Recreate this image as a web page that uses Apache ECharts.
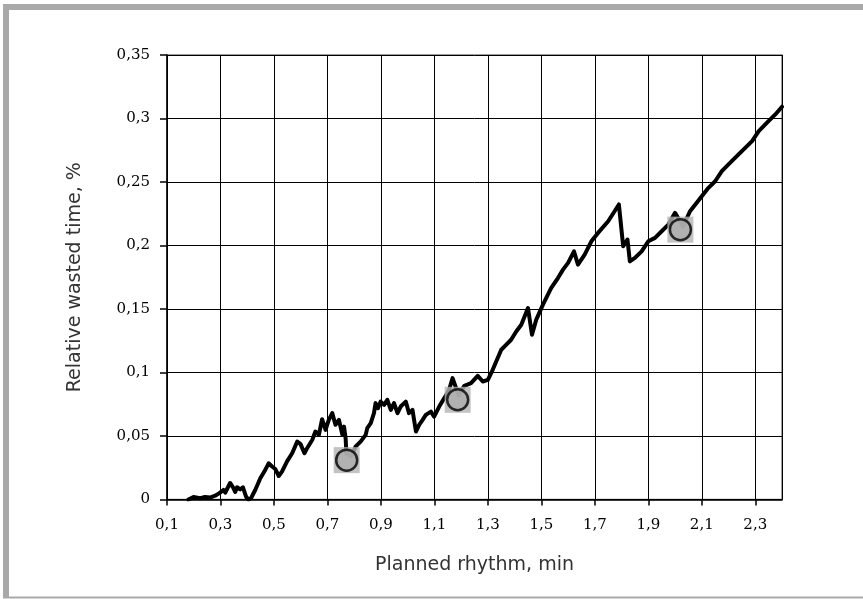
<!DOCTYPE html>
<html>
<head>
<meta charset="utf-8">
<script src="https://cdn.jsdelivr.net/npm/echarts@6/dist/echarts.min.js"></script>
<style>
  html, body { margin: 0; padding: 0; background: #fff; }
  #chart { width: 863px; height: 599px; }
</style>
</head>
<body>
<div id="chart"></div>
<script>
// Planned rhythm (min) and relative wasted time (%)
const rhythm = [
  0.18, 0.199, 0.224, 0.242, 0.261, 0.280, 0.296, 0.311, 0.318, 0.336,
  0.347, 0.355, 0.362, 0.374, 0.384, 0.396, 0.405, 0.414, 0.430, 0.449,
  0.464, 0.480, 0.493, 0.505, 0.518, 0.530, 0.549, 0.568, 0.587, 0.599,
  0.614, 0.624, 0.643, 0.655, 0.668, 0.680, 0.693, 0.705, 0.718, 0.730,
  0.743, 0.756, 0.762, 0.768, 0.771, 0.790, 0.805, 0.824, 0.843, 0.849,
  0.862, 0.874, 0.880, 0.889, 0.899, 0.912, 0.924, 0.937, 0.949, 0.962,
  0.974, 0.993, 1.005, 1.018, 1.031, 1.043, 1.056, 1.068, 1.087, 1.099,
  1.118, 1.137, 1.155, 1.168, 1.177, 1.190, 1.212, 1.237, 1.262, 1.281,
  1.300, 1.318, 1.350, 1.368, 1.387, 1.406, 1.425, 1.450, 1.465, 1.481,
  1.506, 1.537, 1.562, 1.581, 1.600, 1.622, 1.637, 1.662, 1.687, 1.712,
  1.750, 1.790, 1.806, 1.822, 1.831, 1.850, 1.875, 1.900, 1.925, 1.950,
  1.975, 2.000, 2.030, 2.056, 2.081, 2.100, 2.125, 2.150, 2.175, 2.212,
  2.250, 2.288, 2.313, 2.344, 2.375, 2.400
];
const wasted = [
  0.000, 0.002, 0.001, 0.002, 0.0015, 0.003, 0.005, 0.0075, 0.0055, 0.013,
  0.0096, 0.006, 0.0096, 0.008, 0.0096, 0.002, 0.000, 0.001, 0.0075, 0.0167,
  0.022, 0.0285, 0.026, 0.024, 0.0185, 0.022, 0.030, 0.0364, 0.0456, 0.0438,
  0.0364, 0.0404, 0.0469, 0.0535, 0.0509, 0.0632, 0.0548, 0.0627, 0.068, 0.0588,
  0.0627, 0.0509, 0.0574, 0.0483, 0.036, 0.034, 0.0416, 0.0456, 0.0509, 0.0562,
  0.0601, 0.068, 0.0759, 0.0719, 0.0771, 0.0745, 0.0785, 0.0706, 0.0759, 0.068,
  0.0732, 0.0771, 0.068, 0.0706, 0.0535, 0.0588, 0.0627, 0.0666, 0.0692, 0.0653,
  0.0732, 0.0798, 0.0864, 0.0956, 0.0903, 0.082, 0.0895, 0.0916, 0.0974, 0.0929,
  0.0942, 0.1021, 0.1179, 0.1218, 0.1258, 0.1323, 0.1376, 0.1508, 0.1297, 0.1416,
  0.1534, 0.1666, 0.1744, 0.181, 0.1863, 0.1954, 0.1849, 0.1928, 0.2033, 0.2099,
  0.2191, 0.2323, 0.1994, 0.2047, 0.1875, 0.1902, 0.1954, 0.2033, 0.206, 0.2112,
  0.2165, 0.2257, 0.215, 0.227, 0.2336, 0.2388, 0.2454, 0.2506, 0.2585, 0.2664,
  0.2743, 0.2822, 0.2901, 0.2967, 0.3032, 0.3093
];

// Highlighted points
const markRhythm = [0.772, 1.187, 2.020];
const markWasted = [0.031, 0.0785, 0.2125];

// Axis settings
const xStart = 0.1, xEnd = 2.4, xStep = 0.2;
const yMin = 0, yMax = 0.35, yStep = 0.05;
const xTitle = 'Planned rhythm, min';
const yTitle = 'Relative wasted time, %';

// The x axis runs from 0.1 with steps of 0.2; values are placed relative to xStart
const toAxis = v => +(v - xStart).toFixed(4);
const comma = s => s.replace('.', ',');

const lineData = rhythm.map((x, i) => [toAxis(x), wasted[i]]);
const markData = markRhythm.map((x, i) => [toAxis(x), markWasted[i]]);

const chart = echarts.init(document.getElementById('chart'), null, { renderer: 'canvas' });
const frameColor = '#a9a9a9';

chart.setOption({
  animation: false,
  backgroundColor: '#ffffff',
  grid: {
    left: 167, top: 55, width: 615, height: 444.5,
    show: true, borderColor: '#7f7f7f', borderWidth: 1.5, backgroundColor: '#fff'
  },
  xAxis: {
    type: 'value',
    min: 0, max: toAxis(xEnd), interval: xStep,
    name: xTitle, nameLocation: 'middle', nameGap: 56,
    nameTextStyle: { fontFamily: 'DejaVu Sans', fontSize: 19, color: '#333' },
    axisLine: { show: true, onZero: false, lineStyle: { color: '#000', width: 1.5 } },
    axisTick: { show: true, length: 6, inside: false, lineStyle: { color: '#000', width: 1.5 } },
    axisLabel: {
      showMaxLabel: false, margin: 18,
      fontFamily: 'DejaVu Serif', fontSize: 15, color: '#000',
      formatter: v => comma((v + xStart).toFixed(1))
    },
    splitLine: { show: true, lineStyle: { color: '#000', width: 1 } }
  },
  yAxis: {
    type: 'value',
    min: yMin, max: yMax, interval: yStep,
    name: yTitle, nameLocation: 'middle', nameGap: 82, nameRotate: 90,
    nameTextStyle: { fontFamily: 'DejaVu Sans', fontSize: 19, color: '#333' },
    axisLine: { show: true, lineStyle: { color: '#000', width: 1.5 } },
    axisTick: { show: true, length: 7, lineStyle: { color: '#000', width: 1.5 } },
    axisLabel: {
      margin: 17,
      fontFamily: 'DejaVu Serif', fontSize: 15, color: '#000',
      formatter: v => comma(String(+v.toFixed(2)))
    },
    splitLine: { show: true, lineStyle: { color: '#000', width: 1 } }
  },
  graphic: [
    { type: 'rect', shape: { x: 3, y: 4, width: 860, height: 6 }, style: { fill: frameColor }, silent: true },
    { type: 'rect', shape: { x: 3, y: 4, width: 6, height: 594 }, style: { fill: frameColor }, silent: true },
    { type: 'rect', shape: { x: 3, y: 596.5, width: 860, height: 2 }, style: { fill: frameColor }, silent: true }
  ],
  series: [
    {
      type: 'line',
      data: lineData,
      symbol: 'none',
      lineStyle: { color: '#000', width: 4, cap: 'round', join: 'round' },
      z: 3
    },
    {
      type: 'scatter',
      data: markData,
      symbol: 'rect',
      symbolSize: 26,
      itemStyle: { color: '#b4b4b4' },
      z: 4
    },
    {
      type: 'scatter',
      data: markData,
      symbol: 'circle',
      symbolSize: 21,
      itemStyle: { color: '#acacac', borderColor: '#000', borderWidth: 2.5 },
      z: 5
    }
  ]
});
</script>
</body>
</html>
